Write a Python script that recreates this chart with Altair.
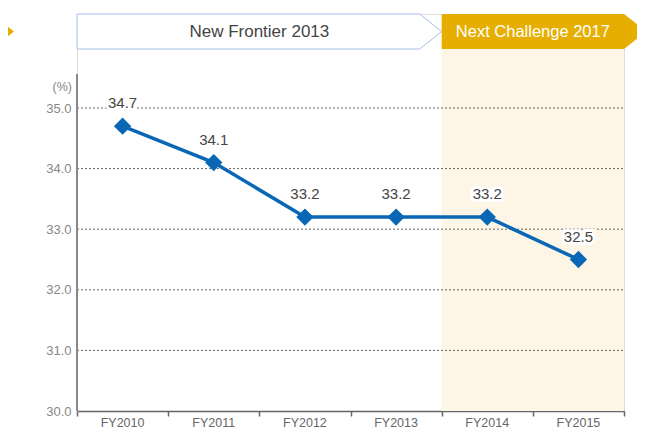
import altair as alt
import pandas as pd

# ---- data ----
years = ["FY2010", "FY2011", "FY2012", "FY2013", "FY2014", "FY2015"]
values = [34.7, 34.1, 33.2, 33.2, 33.2, 32.5]
y_ticks = [30.0, 31.0, 32.0, 33.0, 34.0, 35.0]
plan_names = ["New Frontier 2013", "Next Challenge 2017"]
plan_first = [0, 4]   # index of first fiscal year in each plan
plan_last = [3, 5]    # index of last fiscal year in each plan

# ---- layout ----
W, H = 547, 397
PX = W / 6.0          # px per category slot
PY = 60.6             # px per percentage point
Y0 = 30.0
YTOP = Y0 + H / PY
FONT = "Liberation Sans"

def yd(py):  # page y -> data y
    return Y0 + (411 - py) / PY

def xd(px):  # page x -> data x
    return (px - 77) / PX

B_TOP, B_BOT, B_MID = yd(14), yd(49), yd(31.5)
TIP = xd(440) - xd(418)

xs = alt.Scale(domain=[0, 6], nice=False, zero=False)
ys = alt.Scale(domain=[Y0, YTOP], nice=False, zero=False)
X = alt.X("x:Q", scale=xs, axis=alt.Axis(values=list(range(7)), labels=False, title=None,
                                           grid=False, ticks=True, tickSize=5, tickColor="#666",
                                           tickWidth=1.5, domainColor="#666", domainWidth=1.5))
Y = alt.Y("y:Q", scale=ys, axis=alt.Axis(values=y_ticks, format=".1f", title=None, domain=False,
                                           ticks=False, grid=False, labelColor="#888",
                                           labelFontSize=13, labelPadding=6, labelFont=FONT))

data = pd.DataFrame({"x": [i + 0.5 for i in range(len(years))], "y": values,
                     "fy": years, "lbl": [f"{v:.1f}" for v in values]})

# shaded area for the second plan
shade = alt.Chart(pd.DataFrame({"x": [plan_first[1]], "x2": [plan_last[1] + 1],
                                "y": [Y0], "y2": [B_BOT]})).mark_rect(
    color="#fdf5e6").encode(x=X, x2="x2:Q", y=Y, y2="y2:Q")

# dotted grid lines (drawn above the shading)
grid = alt.Chart(pd.DataFrame({"y": y_ticks[1:], "x": [0] * 5, "x2": [6] * 5})).mark_rule(
    color="#666", strokeDash=[2, 2], strokeWidth=1).encode(x=X, x2="x2:Q", y=Y)

# banner 1 (outlined arrow)
nf_end = plan_last[0] + 1
nf = pd.DataFrame({"x": [plan_first[0], nf_end - TIP, nf_end],
                   "y": [B_TOP, B_TOP, B_MID], "y2": [B_BOT, B_BOT, B_MID]})
banner1 = alt.Chart(nf).mark_area(fill="white", stroke="#a3c0e6", strokeWidth=1,
                                  clip=False, interpolate="linear").encode(x=X, y=Y, y2="y2:Q")

# banner 2 (filled arrow)
nc_end = plan_last[1] + 1
nc = pd.DataFrame({"x": [plan_first[1], nc_end, nc_end + TIP],
                   "y": [B_TOP, B_TOP, B_MID], "y2": [B_BOT, B_BOT, B_MID]})
banner2 = alt.Chart(nc).mark_area(color="#e6ae00", clip=False, opacity=1).encode(
    x=X, y=Y, y2="y2:Q")

# partial arrow tip on the far left
lt = pd.DataFrame({"x": [xd(-8), xd(14)], "y": [B_TOP, B_MID], "y2": [B_BOT, B_MID]})
banner0 = alt.Chart(lt).mark_area(color="#e6ae00", clip=False, opacity=1).encode(
    x=X, y=Y, y2="y2:Q")

btext = pd.DataFrame({"x": [(plan_first[0] + nf_end) / 2, (plan_first[1] + nc_end) / 2],
                      "y": [B_MID, B_MID], "name": plan_names, "c": ["#444444", "#ffffff"],
                      "s": [17, 16.5]})
banner_text = alt.Chart(btext).mark_text(font=FONT, baseline="middle",
                                         align="center", clip=False).encode(
    x=X, y=Y, text="name:N", color=alt.Color("c:N", scale=None),
    size=alt.Size("s:Q", scale=None))

# y axis line
yline = alt.Chart(pd.DataFrame({"x": [0], "y": [Y0], "y2": [yd(74)]})).mark_rule(
    color="#888", strokeWidth=2).encode(x=X, y=Y, y2="y2:Q")

unit = alt.Chart(pd.DataFrame({"x": [0], "y": [yd(87)], "t": ["(%)"]})).mark_text(
    align="right", dx=-5, baseline="middle", fontSize=12.5, font=FONT, color="#888",
    clip=False).encode(x=X, y=Y, text="t:N")

base = alt.Chart(data)
halo = base.mark_text(dy=-23, fontSize=15, font=FONT, stroke="white", strokeWidth=6,
                      baseline="middle", color="white").encode(x=X, y=Y, text="lbl:N")
line = base.mark_line(color="#0a67b5", strokeWidth=3.5).encode(x=X, y=Y)
pts = base.mark_point(shape="diamond", filled=True, size=300, color="#0a67b5",
                      opacity=1).encode(x=X, y=Y)
labels = base.mark_text(dy=-23, fontSize=15, font=FONT, color="#444",
                        baseline="middle").encode(x=X, y=Y, text="lbl:N")
xlabels = base.mark_text(dy=15.5, fontSize=12.5, font=FONT, color="#666",
                         baseline="alphabetic", clip=False).encode(
    x=X, y=alt.datum(Y0), text="fy:N")

chart = alt.layer(shade, grid, banner1, banner2, banner0, banner_text, halo, line, pts, labels,
                  xlabels, yline, unit).properties(
    width=W, height=H,
    padding={"left": 69, "top": 6, "right": 13, "bottom": 17},
    autosize=alt.AutoSizeParams(type="none"),
).configure_view(stroke=None).configure(font=FONT)

chart.save("out.html", embed_options={"renderer": "svg", "actions": False})
